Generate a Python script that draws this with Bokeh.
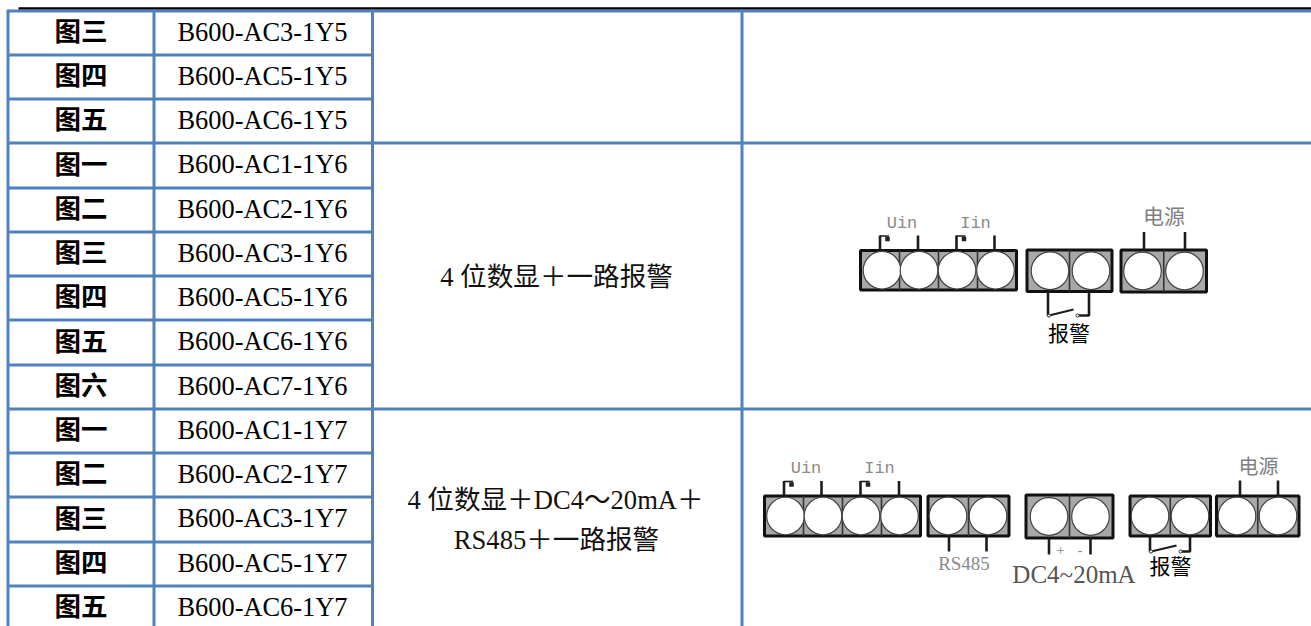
from bokeh.plotting import figure
from bokeh.models import Range1d
from bokeh.core.properties import value
from bokeh.embed import file_html
from bokeh.resources import INLINE

# ---- table content ----
FIGURES = ["图三", "图四", "图五", "图一", "图二", "图三", "图四", "图五", "图六",
           "图一", "图二", "图三", "图四", "图五"]
MODELS = ["B600-AC3-1Y5", "B600-AC5-1Y5", "B600-AC6-1Y5",
          "B600-AC1-1Y6", "B600-AC2-1Y6", "B600-AC3-1Y6", "B600-AC5-1Y6",
          "B600-AC6-1Y6", "B600-AC7-1Y6",
          "B600-AC1-1Y7", "B600-AC2-1Y7", "B600-AC3-1Y7", "B600-AC5-1Y7",
          "B600-AC6-1Y7"]
FEATURE_1 = ["4 位数显＋一路报警"]
FEATURE_2 = ["4 位数显＋DC4～20mA＋", "RS485＋一路报警"]

BLUE = "#4F81BD"
SERIF = "Liberation Serif, Noto Sans CJK SC"
CJK = "Noto Sans CJK SC"
MONO = "Liberation Mono"

W, H = 1311, 626
p = figure(width=W, height=H, output_backend="svg", toolbar_location=None,
           x_range=Range1d(0, W), y_range=Range1d(H, 0),
           x_axis_type=None, y_axis_type=None, min_border=0,
           outline_line_color=None,
           background_fill_color="white", border_fill_color="white")

# ---- grid ----
row_lines = [10.5, 54.5, 98.5, 142.5, 187.5, 231.5, 275.5, 319.5, 364.5,
             408.5, 452.5, 496.5, 541.5, 585.5, 630]
col_lines = [7.5, 153.5, 372, 741.5]

p.segment([18], [8], [W], [8], line_color="black", line_width=2.5)
# horizontal rules: first two columns on all rows, the others only at merged cells
for i, y in enumerate(row_lines[:-1]):
    xe = W if i in (0, 3, 9) else col_lines[2]
    p.segment([col_lines[0]], [y], [xe], [y], line_color=BLUE, line_width=3)
for x in col_lines:
    p.segment([x], [row_lines[0] - 1.5], [x], [H], line_color=BLUE, line_width=3)

# ---- cell text ----
cy = [(row_lines[i] + row_lines[i + 1]) / 2 for i in range(len(FIGURES))]
p.text([80.5] * len(FIGURES), [c - 3.5 for c in cy], text=FIGURES,
       text_font=value(CJK), text_font_size="26.5px", text_font_style="bold",
       text_align="center", text_baseline="middle", text_color="black")
p.text([262] * len(MODELS), [c - 1.5 for c in cy], text=MODELS,
       text_font=value("Liberation Serif"), text_font_size="26.4px",
       text_align="center", text_baseline="middle", text_color="black")
p.text([556], [276], text=FEATURE_1, text_font=value(SERIF), text_font_size="26.6px",
       text_align="center", text_baseline="middle", text_color="#111111")
p.text([555, 556], [499, 539], text=FEATURE_2, text_font=value(SERIF),
       text_font_size="26.6px", text_align="center", text_baseline="middle",
       text_color="#111111")


# ---- wiring diagrams ----
def block(x0, x1, y0, y1, centres, r=18.8):
    cy_ = (y0 + y1) / 2
    p.quad(left=[x0], right=[x1], top=[y0], bottom=[y1],
           fill_color="#a8a8a8", line_color="#111111", line_width=3)
    n = len(centres)
    step = (x1 - x0) / n
    for k in range(1, n):
        xd = x0 + k * step
        p.segment([xd], [y0], [xd], [y1], line_color="#333333", line_width=1.6)
    p.circle(centres, [cy_] * n, radius=r, fill_color="white",
             line_color="#444444", line_width=1.2)


def wire(xs, ys, w=2.6, color="#1c1c1c"):
    p.line(xs, ys, line_color=color, line_width=w)


def pins(xs, y0, y1):
    for x in xs:
        wire([x, x], [y0, y1])


def polarity(x, y):
    wire([x, x + 9], [y, y], w=1.6)
    p.scatter([x + 7.5], [y + 3], size=4.5, marker="square", fill_color="#222222", line_color=None)


def switch(xl, xr, y0, y1, gap_l, gap_r):
    wire([xl, xl, xl + 1], [y0, y1, y1])
    wire([xl + 1, gap_l], [y1, y1 - 6], w=2)
    wire([gap_r, xr, xr], [y1, y1, y0])
    p.circle([xl + 1, gap_r], [y1, y1], radius=1.6, fill_color="white",
             line_color="#333333", line_width=1)


GREY = "#8a8a8a"


def label(x, y, t, font, size, color=GREY, style="normal"):
    p.text([x], [y], text=[t], text_font=value(font), text_font_size=size,
           text_font_style=style, text_color=color, text_align="center",
           text_baseline="middle")


# diagram 1: row 1Y6
block(860, 1016, 250, 289.5, [881.5, 918.5, 956.5, 995])
block(1026.5, 1111.5, 249.5, 291, [1049.5, 1090.5])
block(1120.5, 1206, 249.5, 291.5, [1142, 1184])
pins([879.5, 917.5, 956, 994], 235, 250)
pins([1143.5, 1184.5], 231.5, 249.5)
polarity(879.5, 235.5)
polarity(956, 235.5)
switch(1047.5, 1088.5, 291, 315, 1073, 1077)
label(901.5, 223, "Uin", MONO, "17px")
label(975, 223, "Iin", MONO, "17px")
label(1163.5, 214, "电源", CJK, "21px", "#808080")
label(1068.5, 331, "报警", CJK, "21px", "#000000")

# diagram 2: row 1Y7
block(764, 920, 495.5, 535.5, [785, 822.5, 860.5, 899])
block(927.5, 1008.5, 495.5, 535.5, [947.5, 987.5])
block(1025.5, 1112.5, 494.5, 537.5, [1048.5, 1090])
block(1129.5, 1210, 495.5, 535.5, [1149.5, 1189.5])
block(1216, 1298.5, 495.5, 535.5, [1236.5, 1277.5])
pins([783.5, 821, 860, 898.5], 480.5, 495.5)
polarity(783.5, 481)
polarity(860, 481)
pins([948.5, 986], 535.5, 551)
pins([1048.5, 1090], 537.5, 554)
pins([1239.5, 1277.5], 480, 495.5)
switch(1149.5, 1189.5, 535.5, 551, 1176, 1180)
label(805.5, 468, "Uin", MONO, "17px")
label(879, 468, "Iin", MONO, "17px")
label(1258, 465, "电源", CJK, "20px", "#808080")
label(963.5, 563, "RS485", "Liberation Serif", "19px")
label(1073.5, 574, "DC4~20mA", "Liberation Serif", "25px", "#555555")
label(1060, 549, "+", "Liberation Serif", "15px", "#888888")
label(1079.5, 549, "-", "Liberation Serif", "15px", "#888888")
label(1170, 564.5, "报警", CJK, "21px", "#000000")

open("out.html", "w").write(file_html(p, INLINE))
